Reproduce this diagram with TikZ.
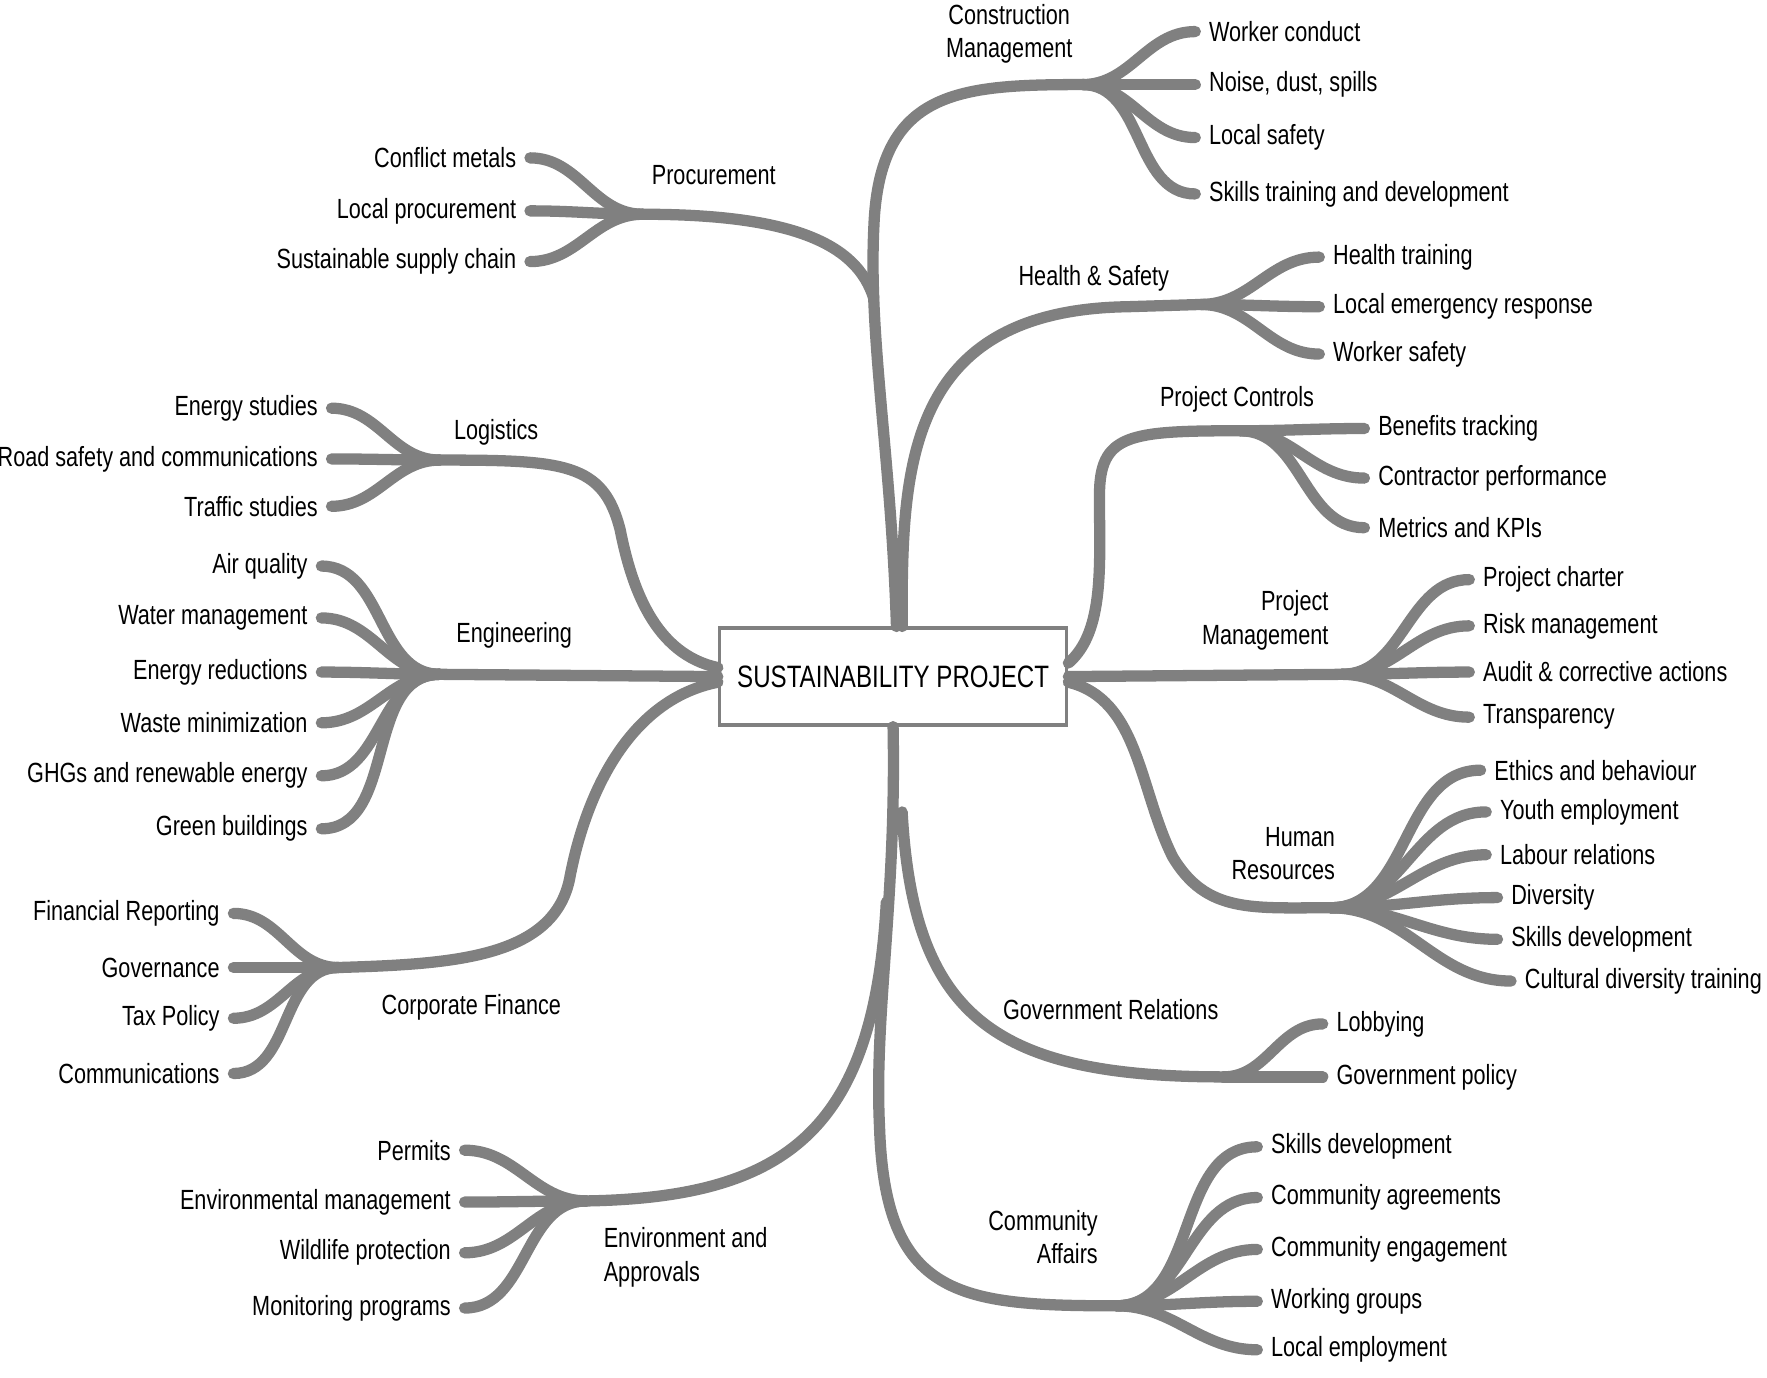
\documentclass[tikz,border=0pt]{standalone}
\usepackage{fontspec}
\setmainfont[FakeStretch=0.78]{Liberation Sans}
\usetikzlibrary{positioning}
\definecolor{mygray}{RGB}{128,128,128}
\tikzset{
  branch/.style={draw=mygray, line width=0.25cm, line cap=round},
  leafR/.style={anchor=west, inner xsep=0.3cm, inner ysep=0, font=\fontsize{17.5}{21}\selectfont},
  leafL/.style={anchor=east, inner xsep=0.3cm, inner ysep=0, font=\fontsize{17.5}{21}\selectfont},
  topic/.style={inner sep=0, align=center, font=\fontsize{17.5}{21}\selectfont}
}
\begin{document}
\begin{tikzpicture}[x=0.025cm, y=-0.025cm]
\useasboundingbox (0,0) rectangle (1567,1222);

% centre
\node[draw=mygray, line width=2pt, fill=white, minimum width=7.7cm, minimum height=2.15cm,
  font=\fontsize{19.5}{23}\selectfont] (sp) at (792,600) {SUSTAINABILITY PROJECT};

% junctions
\coordinate (jcm) at (960,75);
\coordinate (jpr) at (570,190);
\coordinate (jhs) at (1065,270);
\coordinate (jpc) at (1100,382);
\coordinate (jpm) at (1190,598);
\coordinate (jhr) at (1180,805);
\coordinate (jca) at (990,1158);
\coordinate (jgr) at (1085,955);
\coordinate (jea) at (520,1065);
\coordinate (jen) at (390,598);
\coordinate (jlo) at (390,408);
\coordinate (jcf) at (300,858);

% main branches
\draw[branch] (sp.north) ++(3,0) .. controls (790,400) and (770,300) .. (775,200)
  .. controls (780,80) and (850,75) .. (jcm);
\draw[branch] (775,265) .. controls (760,215) and (700,190) .. (jpr);
\draw[branch] (sp.north) ++(8,0) .. controls (800,420) and (800,275) .. (1000,272) -- (jhs);
\draw[branch] (sp.east) ++(0,-12) .. controls (980,560) and (975,500) .. (975,440)
  .. controls (975,385) and (1000,382) .. (jpc);
\draw[branch] (sp.east) -- (jpm);
\draw[branch] (sp.east) ++(0,5) .. controls (1010,620) and (1010,700) .. (1040,760)
  .. controls (1070,810) and (1110,805) .. (jhr);
\draw[branch] (sp.south) .. controls (795,800) and (775,900) .. (780,1000)
  .. controls (785,1150) and (850,1158) .. (jca);
\draw[branch] (800,720) .. controls (810,900) and (880,955) .. (jgr);
\draw[branch] (786,800) .. controls (775,1000) and (700,1062) .. (jea);
\draw[branch] (sp.west) -- (jen);
\draw[branch] (sp.west) ++(0,-8) .. controls (580,580) and (560,520) .. (550,470)
  .. controls (535,410) and (500,408) .. (jlo);
\draw[branch] (sp.west) ++(0,5) .. controls (560,620) and (520,700) .. (505,780)
  .. controls (490,850) and (400,855) .. (jcf);

% topic labels
\node[topic] (tcm) at (895,30) {Construction\\Management};
\node[topic] (tpr) at (633,155) {Procurement};
\node[topic] (ths) at (970,247) {Health \& Safety};
\node[topic] (tpc) at (1097,354) {Project Controls};
\node[topic, align=right] (tpm) at (1122,550) {Project\\Management};
\node[topic, align=right] (thr) at (1138,757) {Human\\Resources};
\node[topic, align=right] (tca) at (925,1097) {Community\\Affairs};
\node[topic] (tgr) at (985,895) {Government Relations};
\node[topic, align=left] (tea) at (608,1115) {Environment and\\Approvals};
\node[topic] (ten) at (456,563) {Engineering};
\node[topic] (tlo) at (440,383) {Logistics};
\node[topic] (tcf) at (418,893) {Corporate Finance};

% leaves, right side
\foreach \i/\x/\y/\t in {1/1060/28/Worker conduct, 2/1060/75/{Noise, dust, spills},
  3/1060/122/Local safety, 4/1060/172/Skills training and development}
  {\node[leafR] (cm\i) at (\x,\y) {\t}; \draw[branch] (jcm) to[out=0,in=180] (cm\i.west);}
\foreach \i/\x/\y/\t in {1/1170/228/Health training, 2/1170/272/Local emergency response,
  3/1170/314/Worker safety}
  {\node[leafR] (hs\i) at (\x,\y) {\t}; \draw[branch] (jhs) to[out=0,in=180] (hs\i.west);}
\foreach \i/\x/\y/\t in {1/1210/380/Benefits tracking, 2/1210/424/Contractor performance,
  3/1210/468/Metrics and KPIs}
  {\node[leafR] (pc\i) at (\x,\y) {\t}; \draw[branch] (jpc) to[out=0,in=180] (pc\i.west);}
\foreach \i/\x/\y/\t in {1/1303/514/Project charter, 2/1303/555/Risk management,
  3/1303/596/Audit \& corrective actions, 4/1303/636/Transparency}
  {\node[leafR] (pm\i) at (\x,\y) {\t}; \draw[branch] (jpm) to[out=0,in=180] (pm\i.west);}
\foreach \i/\x/\y/\t in {1/1313/683/Ethics and behaviour, 2/1318/720/Youth employment,
  3/1318/758/Labour relations, 4/1328/796/Diversity, 5/1328/833/Skills development,
  6/1340/870/Cultural diversity training}
  {\node[leafR] (hr\i) at (\x,\y) {\t}; \draw[branch] (jhr) to[out=0,in=180] (hr\i.west);}
\foreach \i/\x/\y/\t in {1/1173/908/Lobbying, 2/1173/955/Government policy}
  {\node[leafR] (gr\i) at (\x,\y) {\t}; \draw[branch] (jgr) to[out=0,in=180] (gr\i.west);}
\foreach \i/\x/\y/\t in {1/1115/1017/Skills development, 2/1115/1062/Community agreements,
  3/1115/1108/Community engagement, 4/1115/1154/Working groups, 5/1115/1197/Local employment}
  {\node[leafR] (ca\i) at (\x,\y) {\t}; \draw[branch] (jca) to[out=0,in=180] (ca\i.west);}

% leaves, left side
\foreach \i/\x/\y/\t in {1/470/140/Conflict metals, 2/470/187/Local procurement,
  3/470/232/Sustainable supply chain}
  {\node[leafL] (pr\i) at (\x,\y) {\t}; \draw[branch] (jpr) to[out=180,in=0] (pr\i.east);}
\foreach \i/\x/\y/\t in {1/294/362/Energy studies, 2/294/407/Road safety and communications,
  3/294/449/Traffic studies}
  {\node[leafL] (lo\i) at (\x,\y) {\t}; \draw[branch] (jlo) to[out=180,in=0] (lo\i.east);}
\foreach \i/\x/\y/\t in {1/285/502/Air quality, 2/285/548/Water management,
  3/285/596/Energy reductions, 4/285/641/Waste minimization,
  5/285/688/GHGs and renewable energy, 6/285/735/Green buildings}
  {\node[leafL] (en\i) at (\x,\y) {\t}; \draw[branch] (jen) to[out=180,in=0] (en\i.east);}
\foreach \i/\x/\y/\t in {1/207/810/Financial Reporting, 2/207/858/Governance,
  3/207/903/Tax Policy, 4/207/952/Communications}
  {\node[leafL] (cf\i) at (\x,\y) {\t}; \draw[branch] (jcf) to[out=180,in=0] (cf\i.east);}
\foreach \i/\x/\y/\t in {1/412/1020/Permits, 2/412/1066/Environmental management,
  3/412/1111/Wildlife protection, 4/412/1160/Monitoring programs}
  {\node[leafL] (ea\i) at (\x,\y) {\t}; \draw[branch] (jea) to[out=180,in=0] (ea\i.east);}

\end{tikzpicture}
\end{document}
